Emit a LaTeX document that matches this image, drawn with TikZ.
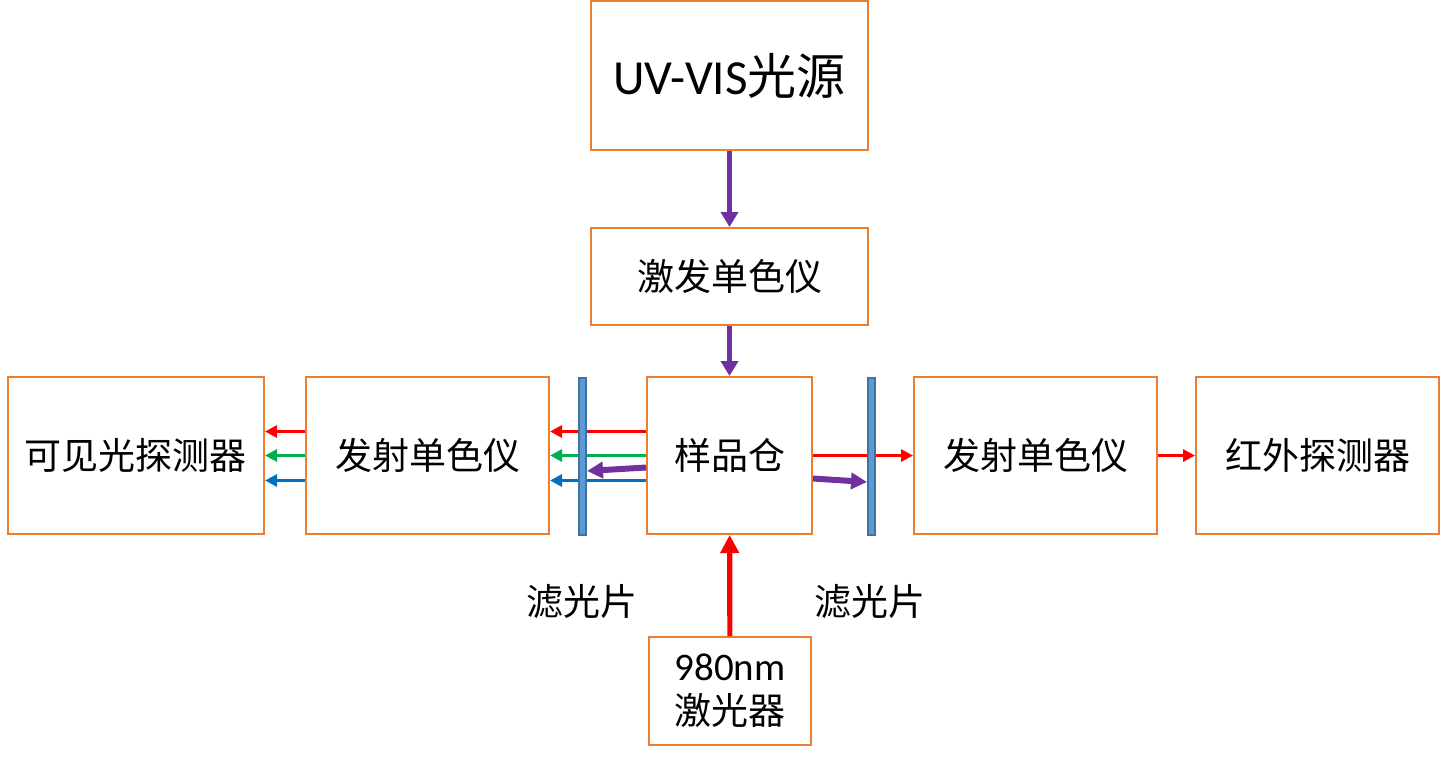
\documentclass[tikz,border=0pt]{standalone}
\usepackage{fontspec}
\setmainfont{Carlito}
\newfontfamily\cjk{Noto Sans CJK SC}
\usepackage{tikz}
\usetikzlibrary{arrows.meta,positioning,calc}
\definecolor{boxorange}{HTML}{ED7D31}
\definecolor{glassfill}{HTML}{5B9BD5}
\definecolor{glassedge}{HTML}{41719C}
\definecolor{uvpurple}{HTML}{7030A0}
\definecolor{visgreen}{HTML}{00B050}
\definecolor{visblue}{HTML}{0070C0}
\tikzstyle{block}=[draw=boxorange,line width=1pt,fill=white,inner sep=0pt,align=center,font=\cjk\fontsize{18.5pt}{22pt}\selectfont]
\tikzstyle{glass}=[draw=glassedge,fill=glassfill,line width=1pt,minimum width=3.5pt,minimum height=78.5pt,inner sep=0pt]
\tikzstyle{caption}=[inner sep=0pt,font=\cjk\fontsize{18.5pt}{22pt}\selectfont]
\tikzstyle{thinray}=[line width=1.5pt,-{Triangle[length=6pt,width=6pt]}]
\tikzstyle{thickray}=[line width=2.6pt,-{Triangle[length=7.5pt,width=8.5pt]}]

\begin{document}
\begin{tikzpicture}[x=0.5pt,y=-0.5pt]
\useasboundingbox (0,0) rectangle (1440,756);
% light path, top to bottom
\node [block,minimum width=138.5pt,minimum height=74.5pt,font=\cjk\fontsize{24.5pt}{28pt}\selectfont] (source) at (729.5,75.5) {{\rmfamily UV-VIS}光源};
\node [block,minimum width=138.5pt,minimum height=48.5pt] (excmono) at (729.5,276.5) {激发单色仪};
\node [block,minimum width=128pt,minimum height=78.5pt] (visdet) at (136,455.5) {可见光探测器};
\node [block,minimum width=121.5pt,minimum height=78.5pt] (emleft) at (427.5,455.5) {发射单色仪};
\node [block,minimum width=82.5pt,minimum height=78.5pt] (sample) at (729.5,455.5) {样品仓};
\node [block,minimum width=121.5pt,minimum height=78.5pt] (emright) at (1035.5,455.5) {发射单色仪};
\node [block,minimum width=121.5pt,minimum height=78.5pt] (irdet) at (1317.5,455.5) {红外探测器};
\node [block,minimum width=81pt,minimum height=54pt] (laser) at (730,691) {{\rmfamily\fontsize{19.5pt}{22pt}\selectfont 980nm}\\激光器};

\draw [thickray,uvpurple] (source) -- (excmono);
\draw [thickray,uvpurple] (excmono) -- (sample);
\draw [thickray,red,line width=2.6pt,-{Triangle[length=9pt,width=9pt]}] (laser) -- (sample);

% visible emission to the left
\draw [thinray,red] ($(sample.west)+(0,-24)$) -- ($(emleft.east)+(0,-24)$);
\draw [thinray,visgreen] (sample.west) -- (emleft.east);
\draw [thinray,visblue] ($(sample.west)+(0,25)$) -- ($(emleft.east)+(0,25)$);
\draw [thinray,red] ($(emleft.west)+(0,-24)$) -- ($(visdet.east)+(0,-24)$);
\draw [thinray,visgreen] (emleft.west) -- (visdet.east);
\draw [thinray,visblue] ($(emleft.west)+(0,25)$) -- ($(visdet.east)+(0,25)$);

% infrared emission to the right
\draw [thinray,red] (sample.east) -- (emright.west);
\draw [thinray,red] (emright.east) -- (irdet.west);

% filters
\node [glass] (filtleft) at (582.5,456) {};
\node [glass] (filtright) at (871.5,456) {};
\node [caption] (capleft) at (582,602) {滤光片};
\node [caption] (capright) at (869.5,602) {滤光片};

\draw [uvpurple,line width=3pt,-{Triangle[length=8pt,width=8pt]}] ($(sample.west)+(0,12)$) -- ($(filtleft.east)+(0,15)$);
\draw [uvpurple,line width=3pt,-{Triangle[length=8pt,width=8pt]}] ($(sample.east)+(0,23)$) -- ($(filtright.west)+(0,26)$);
\end{tikzpicture}
\end{document}
